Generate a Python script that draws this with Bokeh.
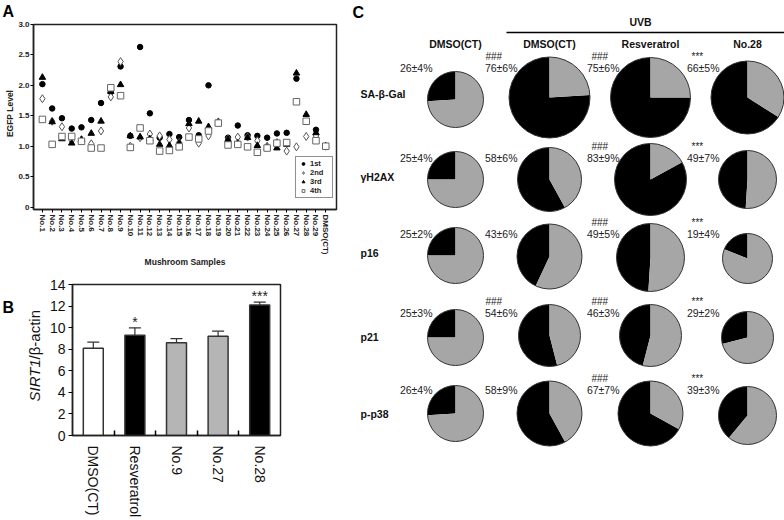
import math
from bokeh.plotting import figure
from bokeh.layouts import row, column
from bokeh.models import (FixedTicker, CustomJSTickFormatter, Legend, LegendItem,
                          ColumnDataSource, Whisker, TeeHead, Range1d)
from bokeh.core.properties import value
from bokeh.embed import file_html
from bokeh.resources import INLINE

FONT = "Liberation Sans"

# ---------------- Panel A data ----------------
samples = ["No.%d" % i for i in range(1, 30)] + ["DMSO(CT)"]
egfp_1st = [2.02, 1.62, 1.46, 1.29, 1.31, 1.43, 1.71, 1.89, 2.31, 1.17,
            2.63, 1.54, 1.14, 1.20, 1.15, 1.43, 1.18, 2.00, 1.39, 1.14,
            1.34, 1.18, 1.17, 1.14, 1.21, 1.22, 2.11, 1.40, 1.27, 1.00]
egfp_2nd = [1.78, 1.41, 1.32, 1.09, 1.10, 1.04, 1.25, 1.81, 2.39, 1.00,
            1.14, 1.20, 1.17, 1.11, 1.06, 1.30, 1.05, 1.17, 1.40, 1.12,
            1.15, 1.15, 1.09, 1.00, 1.06, 0.92, 0.99, 1.16, 1.17, 1.00]
egfp_3rd = [2.13, 1.40, 1.12, 1.05, 1.11, 1.21, 1.41, 1.90, 2.01, 1.17,
            1.15, 1.12, 1.03, 1.01, 1.05, 1.37, 1.41, 1.32, 1.39, 1.11,
            1.05, 1.14, 1.01, 0.98, 0.97, 1.03, 2.20, 1.52, 1.22, 1.00]
egfp_4th = [1.44, 1.03, 1.16, 1.16, 1.08, 0.97, 0.97, 1.96, 1.83, 0.98,
            1.30, 1.09, 0.92, 0.93, 0.99, 1.15, 1.12, 1.25, 1.38, 1.02,
            1.03, 0.99, 0.90, 0.97, 1.05, 1.06, 1.73, 1.41, 1.09, 1.00]
egfp_ticks = [0, 0.5, 1.0, 1.5, 2.0, 2.5, 3.0]
run_names = ["1st", "2nd", "3rd", "4th"]

# ---------------- Panel B data ----------------
sirt_groups = ["DMSO(CT)", "Resveratrol", "No.9", "No.27", "No.28"]
sirt_mean = [8.1, 9.3, 8.6, 9.2, 12.1]
sirt_err = [0.55, 0.68, 0.38, 0.47, 0.27]
sirt_sig = ["", "*", "", "", "***"]
sirt_ticks = [0, 2, 4, 6, 8, 10, 12, 14]

# ---------------- Panel C data ----------------
markers_c = ["SA-\u03b2-Gal", "\u03b3H2AX", "p16", "p21", "p-p38"]
groups_c = ["DMSO(CT)", "DMSO(CT)", "Resveratrol", "No.28"]
pct_mean = [[26, 76, 75, 66],
            [25, 58, 83, 49],
            [25, 43, 49, 19],
            [25, 54, 46, 29],
            [26, 58, 67, 39]]
pct_sd = [[4, 6, 6, 5],
          [4, 6, 9, 7],
          [2, 6, 5, 4],
          [3, 6, 3, 2],
          [4, 9, 7, 3]]
pct_sig = [["", "###", "###", "***"],
           ["", "", "###", "***"],
           ["", "", "###", "***"],
           ["", "###", "###", "***"],
           ["", "", "###", "***"]]
uvb_label = "UVB"


def Y(ref_y):
    # page pixel row -> data y used by the label strips and panel C
    return 520 - ref_y


def strip(width, height, y0, y1):
    s = figure(width=width, height=height, x_range=Range1d(0, width), y_range=Range1d(y0, y1),
               x_axis_type=None, y_axis_type=None, output_backend="svg", toolbar_location=None,
               title=None, min_border=0, frame_align=False)
    s.outline_line_color = None
    s.grid.visible = False
    return s


# ================= Panel A =================
sA = strip(15, 270, 250, 520)
sA.text(x=[2], y=[Y(11)], text=["A"], text_align="left", text_baseline="middle",
        text_font=value(FONT), text_font_size="16px", text_font_style="bold", text_color="black")
sA.text(x=[9], y=[Y(113)], text=["EGFP Level"], angle=math.pi / 2, text_align="center",
        text_baseline="middle", text_font=value(FONT), text_font_size="8.5px",
        text_font_style="bold", text_color="#222222")

pA = figure(width=335, height=270, x_range=Range1d(-0.91, 30.1), y_range=Range1d(-0.04, 3.0),
            output_backend="svg", toolbar_location=None, title=None, frame_align=False,
            min_border_left=15, min_border_right=14, min_border_top=24, min_border_bottom=59)
pA.grid.visible = False
pA.outline_line_color = "#222222"
pA.outline_line_width = 1.5

xa = pA.xaxis[0]
xa.ticker = FixedTicker(ticks=list(range(len(samples))))
xa.formatter = CustomJSTickFormatter(args=dict(names=samples),
                                     code="return names[Math.round(tick)] || '';")
xa.major_label_orientation = "vertical"
xa.major_label_text_font = FONT
xa.major_label_text_font_size = "8px"
xa.major_label_text_font_style = "bold"
xa.major_label_text_color = "#222222"
xa.major_tick_out = 3
xa.major_tick_in = 0
xa.minor_tick_out = 0
xa.minor_tick_in = 0
xa.major_label_standoff = 2
xa.axis_line_width = 1.5
xa.axis_line_color = "#222222"
xa.axis_label = "Mushroom Samples"
xa.axis_label_text_font = FONT
xa.axis_label_text_font_size = "8.5px"
xa.axis_label_text_font_style = "bold"
xa.axis_label_text_color = "#222222"
xa.axis_label_standoff = 0

ya = pA.yaxis[0]
ya.ticker = FixedTicker(ticks=egfp_ticks)
ya.formatter = CustomJSTickFormatter(code="return tick == 0 ? '0' : tick.toFixed(1);")
ya.major_label_text_font = FONT
ya.major_label_text_font_size = "8px"
ya.major_label_text_font_style = "bold"
ya.major_label_text_color = "#222222"
ya.major_tick_out = 3
ya.major_tick_in = 0
ya.minor_tick_out = 0
ya.minor_tick_in = 0
ya.major_label_standoff = 1
ya.axis_line_width = 1.5
ya.axis_line_color = "#222222"

xs = list(range(len(samples)))
r1 = pA.scatter(xs, egfp_1st, marker="circle", size=5.5, fill_color="black", line_color="black")
r2 = pA.scatter(xs, egfp_2nd, marker="diamond", size=8, fill_color="white", line_color="#555555", line_width=1)
r3 = pA.scatter(xs, egfp_3rd, marker="triangle", size=6.5, fill_color="black", line_color="black")
r4 = pA.scatter(xs, egfp_4th, marker="square", size=6.5, fill_color="white", line_color="#666666", line_width=1)

legA = Legend(items=[LegendItem(label=n, renderers=[r]) for n, r in zip(run_names, [r1, r2, r3, r4])],
              location=(262, 11), border_line_color="#222222", border_line_width=1.5,
              label_text_font=FONT, label_text_font_size="7.5px", label_text_font_style="bold",
              label_text_color="#222222",
              glyph_height=7, glyph_width=10, label_height=7, spacing=0, padding=2, margin=0,
              label_standoff=2, background_fill_alpha=1.0)
pA.add_layout(legA)

# ================= Panel B =================
sB = strip(44, 250, 0, 250)
sB.text(x=[2], y=[Y(307)], text=["B"], text_align="left", text_baseline="middle",
        text_font=value(FONT), text_font_size="16px", text_font_style="bold", text_color="black")
sB.text(x=[34], y=[Y(401)], text=["SIRT1"], angle=math.pi / 2, text_align="left",
        text_baseline="middle", text_font=value(FONT), text_font_size="15px",
        text_font_style="italic", text_color="#111111")
sB.text(x=[34], y=[Y(401 - 42)], text=["/\u03b2-actin"], angle=math.pi / 2, text_align="left",
        text_baseline="middle", text_font=value(FONT), text_font_size="15px", text_color="#111111")

pB = figure(width=306, height=250, x_range=Range1d(-0.5, 4.5), y_range=Range1d(0, 14),
            output_backend="svg", toolbar_location=None, title=None, frame_align=False,
            min_border_left=28, min_border_right=70, min_border_top=14, min_border_bottom=77)
pB.grid.visible = False
pB.outline_line_color = "#222222"
pB.outline_line_width = 1.5

bx = list(range(len(sirt_groups)))
bar_colors = ["white", "black", "#b5b5b5", "#b5b5b5", "black"]
srcB = ColumnDataSource(dict(x=bx, top=sirt_mean,
                             upper=[m + e for m, e in zip(sirt_mean, sirt_err)],
                             lower=[m - e for m, e in zip(sirt_mean, sirt_err)],
                             color=bar_colors, sig=sirt_sig))
pB.vbar(x="x", top="top", width=0.48, bottom=0, fill_color="color", line_color="#333333",
        line_width=1.5, source=srcB)
wk = Whisker(source=srcB, base="x", upper="upper", lower="lower", line_color="#333333", line_width=1.2,
             upper_head=TeeHead(size=12, line_color="#333333", line_width=1.2),
             lower_head=TeeHead(size=12, line_color="#333333", line_width=1.2))
pB.add_layout(wk)
pB.text(x="x", y="upper", text="sig", source=srcB, text_align="center", text_baseline="bottom",
        y_offset=2, text_font=value(FONT), text_font_size="14px", text_color="#222222")

xb = pB.xaxis[0]
xb.ticker = FixedTicker(ticks=bx, minor_ticks=[0.5, 1.5, 2.5, 3.5])
xb.formatter = CustomJSTickFormatter(args=dict(names=sirt_groups),
                                     code="return names[Math.round(tick)] || '';")
xb.major_label_orientation = "vertical"
xb.major_label_text_font = FONT
xb.major_label_text_font_size = "14px"
xb.major_label_text_color = "#111111"
xb.major_tick_out = 0
xb.major_tick_in = 0
xb.minor_tick_in = 5
xb.minor_tick_out = 0
xb.minor_tick_line_width = 1.5
xb.major_label_standoff = 10
xb.axis_line_width = 1.5
xb.axis_line_color = "#222222"

yb = pB.yaxis[0]
yb.ticker = FixedTicker(ticks=sirt_ticks)
yb.major_label_text_font = FONT
yb.major_label_text_font_size = "14px"
yb.major_label_text_color = "#111111"
yb.major_tick_out = 4
yb.major_tick_in = 0
yb.minor_tick_out = 0
yb.minor_tick_in = 0
yb.major_label_standoff = 3
yb.axis_line_width = 1.5
yb.axis_line_color = "#222222"

# ================= Panel C =================
pC = figure(width=434, height=520, x_range=Range1d(350, 784), y_range=Range1d(0, 520),
            x_axis_type=None, y_axis_type=None, output_backend="svg", toolbar_location=None,
            title=None, min_border=0, frame_align=False)
pC.outline_line_color = None
pC.grid.visible = False

# layout (positions / sizes in page pixels)
col_x = [455, 549, 650, 747]
pie_y = [[99, 97, 97, 97],
         [179, 179, 179, 179],
         [255, 256, 257, 258],
         [337, 335, 335, 337],
         [413, 413, 413, 415]]
pie_r = [[28, 40.5, 40, 36.5],
         [28, 32, 36, 29],
         [28, 32.5, 34, 25],
         [28, 31, 31, 26],
         [28, 32.5, 32.5, 29]]
pct_x = [432, 517, 619, 719]
sig_x = [402, 485, 591, 691]
pct_y = [67, 157, 233, 312, 389]
label_y = [93, 176, 252, 336, 413]

bk = dict(x=[], y=[], r=[], s=[], e=[])
gy = dict(x=[], y=[], r=[], s=[], e=[])
tx = dict(x=[], y=[], t=[])
sx = dict(x=[], y=[], t=[])
for i in range(len(markers_c)):
    for j in range(len(groups_c)):
        f = pct_mean[i][j] / 100.0
        cx, cy, rr = col_x[j], Y(pie_y[i][j]), pie_r[i][j]
        a0 = math.pi / 2
        a1 = a0 + f * 2 * math.pi
        for d, s, e in ((bk, a0, a1), (gy, a1, a0 + 2 * math.pi)):
            d["x"].append(cx); d["y"].append(cy); d["r"].append(rr)
            d["s"].append(s); d["e"].append(e)
        tx["x"].append(pct_x[j]); tx["y"].append(Y(pct_y[i]))
        tx["t"].append("%d\u00b1%d%%" % (pct_mean[i][j], pct_sd[i][j]))
        if pct_sig[i][j]:
            sx["x"].append(sig_x[j]); sx["y"].append(Y(pct_y[i] - 6))
            sx["t"].append(pct_sig[i][j])

pC.wedge(x="x", y="y", radius="r", start_angle="s", end_angle="e", direction="anticlock",
         fill_color="black", line_color=None, source=ColumnDataSource(bk))
pC.wedge(x="x", y="y", radius="r", start_angle="s", end_angle="e", direction="anticlock",
         fill_color="#a6a6a6", line_color=None, source=ColumnDataSource(gy))
pC.circle(x="x", y="y", radius="r", fill_color=None, line_color="#333333", line_width=1,
          source=ColumnDataSource(dict(x=bk["x"], y=bk["y"], r=bk["r"])))

pC.text(x="x", y="y", text="t", source=ColumnDataSource(tx), text_align="right",
        text_baseline="middle", text_font=value(FONT), text_font_size="10.5px", text_color="#222222")
pC.text(x="x", y="y", text="t", source=ColumnDataSource(sx), text_align="left",
        text_baseline="bottom", text_font=value(FONT), text_font_size="10px", text_color="#222222")

pC.text(x=[360] * len(markers_c), y=[Y(v) for v in label_y], text=markers_c, text_align="left",
        text_baseline="middle", text_font=value(FONT), text_font_size="10.5px",
        text_font_style="bold", text_color="#111111")
pC.text(x=col_x, y=[Y(43)] * len(groups_c), text=groups_c, text_align="center",
        text_baseline="middle", text_font=value(FONT), text_font_size="10.5px",
        text_font_style="bold", text_color="#111111")
pC.text(x=[640], y=[Y(21)], text=[uvb_label], text_align="center", text_baseline="middle",
        text_font=value(FONT), text_font_size="10.5px", text_font_style="bold", text_color="#111111")
pC.segment(x0=[506], y0=[Y(32)], x1=[784], y1=[Y(32)], line_color="black", line_width=1.5)
pC.text(x=[352], y=[Y(12)], text=["C"], text_align="left", text_baseline="middle",
        text_font=value(FONT), text_font_size="16px", text_font_style="bold", text_color="black")

layout = row(column(row(sA, pA), row(sB, pB)), pC)
open("out.html", "w").write(file_html(layout, INLINE))
